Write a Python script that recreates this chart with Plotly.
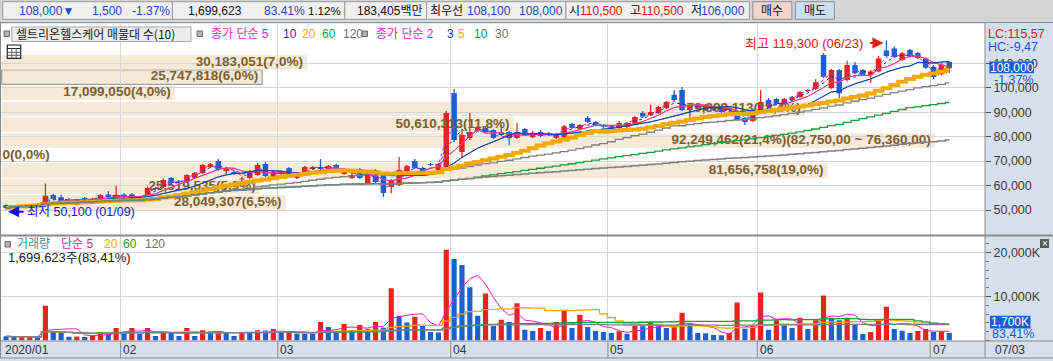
import numpy as np
import pandas as pd
import plotly.graph_objects as go

# ---------------- data ----------------
open_price = [
    52000, 50900, 51400, 51800, 52500, 52600, 56100, 55200, 54300, 52300,
    54900, 54100, 53500, 56300, 55400, 56300, 56400, 54900, 56100, 59000,
    59400, 63100, 61600, 61500, 63500, 65100, 67600, 70000, 65900, 65500,
    62500, 63100, 64300, 68800, 62700, 64700, 67200, 63100, 65500, 66800,
    67600, 65500, 68400, 64700, 63100, 66800, 61000, 66400, 65100, 59400,
    60200, 66000, 70000, 67200, 68800, 66400, 67600, 97900, 73700, 79400,
    82700, 83500, 82700, 81900, 81900, 79400, 83100, 79800, 81900, 81500,
    79400, 79800, 85200, 83100, 87600, 86000, 84800, 84000, 83500, 83900,
    85600, 89700, 88900, 89700, 91700, 97100, 99100, 90900, 92100, 90900,
    92100, 91700, 90900, 88800, 87600, 86400, 90100, 95000, 95400, 93400,
    95000, 96200, 98700, 99500, 113400, 99800, 107300, 103200, 109300, 107300,
    105200, 106600, 115200, 116100, 111400, 115400, 114200, 112000, 108500, 105500,
    110500]
high_price = [
    52300, 51900, 52200, 52600, 52800, 60800, 56600, 56300, 54900, 54500,
    55300, 55000, 56500, 57800, 59800, 56900, 57000, 55800, 59600, 59400,
    63000, 63500, 62300, 64700, 65500, 68800, 69200, 70900, 67600, 66000,
    63500, 66400, 69200, 69600, 66400, 66000, 67600, 65500, 68000, 68000,
    70900, 68400, 68800, 66400, 66800, 67200, 66400, 66800, 65500, 62700,
    71700, 68400, 70900, 67600, 69200, 69200, 90500, 99500, 82700, 89700,
    84300, 84300, 83100, 84800, 82300, 85600, 83500, 82300, 82700, 81900,
    81500, 84800, 85600, 85200, 88400, 86400, 85200, 84800, 86400, 86000,
    88400, 90500, 93000, 92500, 94600, 99100, 100300, 93000, 93400, 93400,
    92500, 92100, 92100, 89300, 88000, 91300, 99100, 95800, 95800, 95800,
    96600, 98700, 99500, 103600, 114200, 107700, 107700, 111000, 110500, 107700,
    107300, 113000, 119300, 116900, 114600, 115800, 114600, 112400, 109300, 110100,
    110500]
low_price = [
    50100, 50500, 51000, 51500, 51800, 52300, 54100, 53000, 53700, 52000,
    53900, 53800, 53300, 55000, 55000, 54900, 54300, 54500, 55800, 58000,
    59000, 60600, 60900, 61000, 63100, 64700, 67200, 66000, 64700, 64300,
    61900, 62700, 64000, 63500, 62300, 64300, 63100, 62700, 65100, 66400,
    66400, 65100, 65100, 64300, 62700, 62700, 60600, 61000, 55300, 56800,
    59800, 65500, 66800, 65100, 68000, 66000, 67200, 77800, 71300, 78600,
    82300, 81500, 79000, 80300, 76600, 79000, 80700, 79400, 79800, 80300,
    79000, 79400, 83100, 82700, 85600, 84300, 83500, 83100, 83100, 83500,
    85200, 87600, 88400, 89300, 91300, 94600, 90500, 87600, 91700, 90500,
    90500, 89700, 90500, 86400, 84800, 86000, 89700, 91700, 92900, 93000,
    94600, 95800, 98300, 99100, 104000, 99500, 95800, 102700, 105500, 104900,
    101900, 106200, 112700, 112300, 111000, 112300, 111800, 107700, 103600, 105000,
    106000]
close_price = [
    50800, 51600, 51900, 52300, 52000, 55800, 54500, 53500, 54000, 54100,
    54300, 54600, 56100, 55400, 56200, 55300, 54700, 55400, 59000, 58600,
    62300, 61000, 61400, 64300, 65100, 68400, 68800, 66400, 67200, 64700,
    62900, 66000, 68400, 63900, 65100, 65500, 63500, 65100, 67600, 67600,
    66800, 68000, 65500, 66000, 64300, 63100, 66000, 61500, 57000, 62300,
    66400, 68000, 67200, 65500, 68400, 68800, 89700, 78600, 80700, 81900,
    83900, 81900, 79400, 80700, 79400, 81900, 81100, 81500, 80300, 80700,
    81100, 84300, 83500, 84800, 86000, 84800, 84000, 83500, 85600, 85600,
    88000, 88200, 90100, 92100, 94200, 95000, 90900, 92500, 93000, 92900,
    90900, 90100, 91700, 86800, 86000, 90500, 94200, 92300, 93400, 95400,
    96200, 98300, 99100, 102300, 104500, 107300, 97700, 109300, 105900, 105200,
    106600, 112000, 113000, 112700, 114100, 112700, 112200, 108200, 104400, 109500,
    108000]
volume_k = [
    950, 800, 850, 880, 760, 7920, 1920, 1690, 880, 920,
    800, 1150, 1920, 1690, 2850, 1690, 2850, 1540, 2850, 1000,
    1920, 1690, 1000, 2850, 1000, 2310, 2000, 2100, 1690, 1000,
    1770, 1700, 2310, 2250, 2620, 1690, 1920, 1600, 1540, 1480,
    4230, 3080, 1920, 3770, 2310, 3540, 2540, 4230, 2920, 11850,
    5620, 4080, 5380, 3310, 1920, 1800, 20620, 18540, 17150, 12080,
    5620, 10690, 3310, 4690, 4230, 8460, 2460, 2150, 2850, 2150,
    4230, 6770, 2850, 5850, 3080, 2150, 1920, 1690, 2080, 1540,
    3350, 3250, 4080, 3230, 2850, 3310, 6310, 3850, 1690, 1650,
    1230, 1200, 1690, 8620, 2690, 3310, 10920, 2460, 4620, 3460,
    2850, 5150, 2620, 4620, 10230, 5150, 4620, 5150, 3770, 1460,
    1920, 4690, 7690, 2620, 2230, 1690, 2150, 2620, 1950, 2037.7,
    1699.6]

month_labels = ["2020/01", "02", "03", "04", "05", "06", "07"]
month_start = [0, 15, 35, 57, 77, 96, 118]
last_date_label = "07/03"
high_date, low_date = "06/23", "01/09"

price_ticks = [50000, 60000, 70000, 80000, 90000, 100000, 110000]
price_tick_labels = ["50,000", "60,000", "70,000", "80,000", "90,000", "100,000", "110,000"]
vol_ticks = [10000, 20000]
vol_tick_labels = ["10,000K", "20,000K"]

# volume profile (매물대), bottom band first
band_low = [50000, 56500, 63000, 69200, 75500, 82000, 88400, 95000, 101400, 107500]
band_high = [56100, 62600, 69100, 75100, 81400, 87900, 94300, 100700, 107300, 113400]
band_volume = [28049307, 25519535, 81656758, 0, 92249462, 50610313, 79399113,
               17099050, 25747818, 30183051]
max_band_range = (82750, 76360)
current_band = 8

ma_set1 = [5, 10, 20, 60, 120]
ma_set2 = [2, 3, 5, 10, 30]
vol_ma_periods = [5, 20, 60, 120]

toolbar = dict(price="108,000", change="1,500", rate="-1.37%", volume="1,699,623",
               vol_rate="83.41%", turnover="1.12%", amount="183,405백만",
               ask="108,100", bid="108,000", open="110,500", high="110,500", low="106,000")
last_volume_text = "1,699,623주(83,41%)"

# ---------------- styling ----------------
W, H = 1053, 361
RED = "#e8231c"
BLUE = "#1b5fd0"
MAGENTA = "#e21fc6"
MA_BLUE = "#1a2fc4"
ORANGE = "#f2a900"
GREEN = "#12a03a"
GRAY = "#808080"
BAND = "#f5e9d8"
BAND_TXT = "#7c5e2c"
PANEL = "#d6e0ec"
TOOLBAR = "#d4d4d4"
GRID = "#d6d6d6"
FRAME = "#8a8a8a"
FONT = "Liberation Sans, Noto Sans CJK KR, sans-serif"
KFONT = "Noto Sans CJK KR, Liberation Sans, sans-serif"

STEP = 7.86          # px per bar
X0PX = 6.1           # px of first bar centre
PLOT_R = 985.0       # right edge of plot area (px)
XMIN = -X0PX / STEP
XMAX = (PLOT_R - X0PX) / STEP
P_TOP, P_BOT = 23.7, 235.5
V_TOP, V_BOT = 236.0, 340.5


def PX(x):
    return x / W


def PY(y):
    return 1 - y / H


n = len(close_price)
xs = list(range(n))
cs = pd.Series(close_price, dtype=float)
vs = pd.Series(volume_k, dtype=float)

fig = go.Figure()

# band labels (drawn as a trace so candles sit over them)
vmax = max(band_volume)
vtot = sum(band_volume)
BAND_X0 = XMIN + 0.22
BAND_FULL = 933 / STEP
bx1, by, btxt, bpos = [], [], [], []
for k, (lo, hi, v) in enumerate(zip(band_low, band_high, band_volume)):
    pct = f"{v / vtot * 100:.1f}".replace(".", ",")
    t = f"{v:,}({pct}%)"
    if v == vmax:
        a, b = max_band_range
        t += f"({a:,}.00 ~ {b:,}.00)".replace(".", ",")
    x1 = BAND_X0 + v / vmax * BAND_FULL
    if v == 0:
        bx1.append(BAND_X0 + 0.1)
        bpos.append("middle right")
    else:
        bx1.append(x1 - 4 / STEP)
        bpos.append("middle left")
    by.append((lo + hi) / 2)
    btxt.append(t)
fig.add_trace(go.Scatter(x=bx1, y=by, text=btxt, mode="text", textposition=bpos,
                         textfont=dict(family=FONT, size=13.5, color=BAND_TXT, weight="bold"),
                         hoverinfo="skip", xaxis="x", yaxis="y", cliponaxis=False))

# moving averages
set2_style = {2: (MAGENTA, 1, "dot"), 3: (MA_BLUE, 1, "dot"), 5: (ORANGE, 1, "solid"),
              10: (GREEN, 1, "solid"), 30: (GRAY, 1.3, "solid")}
for p in ma_set2:
    c, w, d = set2_style[p]
    fig.add_trace(go.Scatter(x=xs, y=cs.rolling(p, min_periods=1).mean(), mode="lines",
                             line=dict(color=c, width=w, dash=d, shape="hvh" if p >= 20 else "linear"),
                             hoverinfo="skip", xaxis="x", yaxis="y"))
set1_style = {5: (MAGENTA, 1), 10: (MA_BLUE, 1), 20: (ORANGE, 4), 60: (GREEN, 1.3), 120: (GRAY, 1.5)}
for p in ma_set1:
    c, w = set1_style[p]
    fig.add_trace(go.Scatter(x=xs, y=cs.rolling(p, min_periods=1).mean(), mode="lines",
                             line=dict(color=c, width=w, shape="hvh" if p >= 20 else "linear"),
                             hoverinfo="skip", xaxis="x", yaxis="y"))

# candles
ccol = [RED if c >= o else BLUE for o, c in zip(open_price, close_price)]
fig.add_trace(go.Bar(x=xs, y=[h - l for h, l in zip(high_price, low_price)], base=low_price,
                     width=0.16, marker=dict(color=ccol, line=dict(width=0)),
                     hoverinfo="skip", xaxis="x", yaxis="y"))
fig.add_trace(go.Bar(x=xs, y=[max(abs(c - o), 250) for o, c in zip(open_price, close_price)],
                     base=[min(o, c) for o, c in zip(open_price, close_price)],
                     width=0.7, marker=dict(color=ccol, line=dict(width=0)),
                     hoverinfo="skip", xaxis="x", yaxis="y"))

# volume
vcol = [BLUE] + [RED if volume_k[i] > volume_k[i - 1] else BLUE for i in range(1, n)]
fig.add_trace(go.Bar(x=xs, y=volume_k, width=0.66, marker=dict(color=vcol, line=dict(width=0)),
                     hoverinfo="skip", xaxis="x2", yaxis="y2"))
vstyle = {5: (MAGENTA, 1, "linear"), 20: (ORANGE, 1.3, "hvh"), 60: (GREEN, 1.3, "hvh"), 120: (GRAY, 1.3, "hvh")}
for p in vol_ma_periods:
    c, w, s = vstyle[p]
    fig.add_trace(go.Scatter(x=xs, y=vs.rolling(p, min_periods=1).mean(), mode="lines",
                             line=dict(color=c, width=w, shape=s),
                             hoverinfo="skip", xaxis="x2", yaxis="y2"))

grid_x = [m - 0.43 for m in month_start[1:]]
xax = dict(domain=[0, PLOT_R / W], range=[XMIN, XMAX], tickvals=grid_x, showticklabels=False,
           ticks="", showgrid=True, gridcolor=GRID, gridwidth=1, zeroline=False, showline=False,
           fixedrange=True)
AXFONT = dict(family=FONT, size=12.5, color="#3c3c3c")
fig.update_layout(
    width=W, height=H, margin=dict(l=0, r=0, t=0, b=0),
    paper_bgcolor=PANEL, plot_bgcolor="white", barmode="overlay", showlegend=False,
    xaxis=dict(xax, anchor="y"),
    xaxis2=dict(xax, anchor="y2", matches="x"),
    yaxis=dict(domain=[PY(P_BOT), PY(P_TOP)],
               range=[50000 - (P_BOT - 210) * 409, 50000 + (210 - P_TOP) * 409],
               side="right", anchor="x", tickvals=price_ticks, ticktext=price_tick_labels,
               ticks="outside", ticklen=5, tickcolor="#505050", tickfont=AXFONT,
               showgrid=True, gridcolor=GRID, zeroline=False, showline=False, fixedrange=True),
    yaxis2=dict(domain=[PY(V_BOT), PY(V_TOP)], range=[0, (V_BOT - V_TOP) * 10000 / 44],
                side="right", anchor="x2", tickvals=vol_ticks, ticktext=vol_tick_labels,
                ticks="outside", ticklen=5, tickcolor="#505050", tickfont=AXFONT,
                minor=dict(dtick=2000, tick0=0, ticks="outside", ticklen=3, tickcolor="#707070"),
                showgrid=True, gridcolor=GRID, zeroline=False, showline=False, fixedrange=True),
)

shapes = []


def prect(x0, y0, x1, y1, fill=None, line=None, lw=1, layer="above"):
    shapes.append(dict(type="rect", xref="paper", yref="paper", x0=PX(x0), x1=PX(x1),
                       y0=PY(y1), y1=PY(y0), fillcolor=fill or "rgba(0,0,0,0)",
                       line=dict(color=line or "rgba(0,0,0,0)", width=lw if line else 0),
                       layer=layer))


def pline(x0, y0, x1, y1, color=FRAME, w=1, layer="above"):
    shapes.append(dict(type="line", xref="paper", yref="paper", x0=PX(x0), x1=PX(x1),
                       y0=PY(y0), y1=PY(y1), line=dict(color=color, width=w), layer=layer))


# bands
for k, (lo, hi, v) in enumerate(zip(band_low, band_high, band_volume)):
    if v == 0:
        continue
    x1 = BAND_X0 + v / vmax * BAND_FULL
    shapes.append(dict(type="rect", xref="x", yref="y", x0=BAND_X0, x1=x1, y0=lo, y1=hi,
                       fillcolor=BAND,
                       line=dict(color="#8c8c8c" if k == current_band else BAND,
                                 width=1 if k == current_band else 0),
                       layer="below"))

# toolbar
prect(0, 0, W, 21.5, fill=TOOLBAR, layer="below")
for x0, x1 in [(2.7, 172.4), (172.4, 344.8), (344.8, 426.6), (426.6, 565.9), (565.9, 749.4)]:
    prect(x0, 1.7, x1, 19.3, fill="#f0f0f0", line="#9a9a9a")
prect(752.8, 1.7, 791.9, 19.3, fill="#f5d3ce", line="#8c8c8c")
prect(795.3, 1.7, 834.4, 19.3, fill="#cbdff2", line="#8c8c8c")

# frames
pline(0, 22.5, W, 22.5)
pline(0, 235.5, W, 235.5, w=2)
pline(0, 341, W, 341)
pline(0, 358, W, 358)
pline(0.5, 22.5, 0.5, 358)
pline(PLOT_R, 22.5, PLOT_R, 358)
for gx in grid_x:
    shapes.append(dict(type="line", xref="x", yref="paper", x0=gx, x1=gx, y0=PY(358), y1=PY(341),
                       line=dict(color=FRAME, width=1)))

# legend icons, table icon, box
for ix in [4, 197, 362]:
    prect(ix, 31, ix + 5.5, 36.5, fill="#b4b4b4", line="#6c6c6c")
prect(5, 241.5, 10.5, 247, fill="#b4b4b4", line="#6c6c6c")
prect(11.8, 27, 191, 41.5, fill="#ececec", line="#a8a8a8")
prect(7.3, 45, 20.7, 58.3, fill="white", line="#202020", lw=1.2)
pline(7.3, 48.5, 20.7, 48.5, "#202020")
pline(7.3, 52.3, 20.7, 52.3, "#606060")
pline(7.3, 55.3, 20.7, 55.3, "#606060")
pline(11.8, 48.5, 11.8, 58.3, "#606060")
pline(16.2, 48.5, 16.2, 58.3, "#606060")

# right panel boxes
prect(989.3, 61.5, 1034, 73.3, fill="#1a5fd0")
prect(990, 315.7, 1030.5, 328.6, fill="#1a5fd0")
prect(1040, 239, 1049, 248, fill="#5a5a5a")

annotations = []


def ann(px, py, text, color="#202020", size=12, family=FONT, xanchor="left", yanchor="middle"):
    annotations.append(dict(xref="paper", yref="paper", x=PX(px), y=PY(py), text=text,
                            showarrow=False, xanchor=xanchor, yanchor=yanchor, borderpad=0,
                            font=dict(family=family, size=size, color=color)))


TB_BLUE = "#1a48d0"
TB_RED = "#e01a14"
ty = 10.8
TS = 12
ann(75, ty, toolbar["price"] + "▼", TB_BLUE, TS, xanchor="right")
ann(123.4, ty, toolbar["change"], TB_BLUE, TS, xanchor="right")
ann(171, ty, toolbar["rate"], TB_BLUE, TS, xanchor="right")
ann(243, ty, toolbar["volume"], "#111111", TS, xanchor="right")
ann(306, ty, toolbar["vol_rate"], TB_BLUE, TS, xanchor="right")
ann(342, ty, toolbar["turnover"], "#111111", 11.5, xanchor="right")
ann(423, ty, toolbar["amount"], "#111111", TS, xanchor="right")
ann(429, ty, "최우선", "#111111", TS)
ann(512, ty, toolbar["ask"], TB_BLUE, TS, xanchor="right")
ann(564, ty, toolbar["bid"], TB_BLUE, TS, xanchor="right")
ann(567.5, ty, "시", "#111111", TS)
ann(624, ty, toolbar["open"], TB_RED, TS, xanchor="right")
ann(628.5, ty, "고", "#111111", TS)
ann(685, ty, toolbar["high"], TB_RED, TS, xanchor="right")
ann(690, ty, "저", "#111111", TS)
ann(746, ty, toolbar["low"], TB_BLUE, TS, xanchor="right")
ann(772.3, ty, "매수", "#111111", TS, xanchor="center")
ann(814.8, ty, "매도", "#111111", TS, xanchor="center")

# price pane legend
ly = 34
ann(15, ly, "셀트리온헬스케어 매물대 수(10)", "#202020", 12, KFONT)
ann(209.6, ly, "종가 단순 5", MAGENTA, 12, FONT)
ann(282, ly, "10", MA_BLUE, 12, FONT)
ann(301, ly, "20", ORANGE, 12, FONT)
ann(320.5, ly, "60", GREEN, 12, FONT)
ann(341.5, ly, "120", "#707070", 12, FONT)
ann(374.6, ly, "종가 단순 2", MAGENTA, 12, FONT)
ann(445.6, ly, "3", MA_BLUE, 12, FONT)
ann(457, ly, "5", ORANGE, 12, FONT)
ann(473, ly, "10", GREEN, 12, FONT)
ann(493.6, ly, "30", "#707070", 12, FONT)

# volume pane legend
vy = 244.3
ann(16, vy, "거래량", "#2f9393", 12, FONT)
ann(60, vy, "단순 5", MAGENTA, 12, FONT)
ann(103, vy, "20", ORANGE, 12, FONT)
ann(122, vy, "60", GREEN, 12, FONT)
ann(143.7, vy, "120", "#707070", 12, FONT)
ann(6.8, 257.7, last_volume_text, "#202020", 13, FONT)

# right panel
last_close = close_price[-1]
prev_close = close_price[-2]
lc = (last_close - min(low_price)) / min(low_price) * 100
hc = (last_close - max(high_price)) / max(high_price) * 100
chg = (last_close - prev_close) / prev_close * 100
ann(986.5, 34, f"LC:{lc:.2f}".replace(".", ","), "#e01a14", 12.5, FONT)
ann(986.5, 47, f"HC:{hc:.2f}".replace(".", ","), "#1a55d0", 12.5, FONT)
ann(1011.6, 67.6, f"{last_close:,}", "white", 12, FONT, xanchor="center")
ann(993, 80, f"{chg:.2f}%".replace(".", ","), "#1a55d0", 12.5, FONT)
ann(1010.2, 322.3, f"{round(volume_k[-1]):,}K", "white", 12, FONT, xanchor="center")
ann(990.5, 334, f"{volume_k[-1] / volume_k[-2] * 100:.2f}%".replace(".", ","), "#1a55d0", 12.5, FONT)
ann(1044.5, 243.3, "×", "white", 10, FONT, xanchor="center")

# date axis labels
for lab, m in zip(month_labels, month_start):
    annotations.append(dict(xref="x", yref="paper", x=m - 0.43, y=PY(349.5), text=lab, showarrow=False,
                            xanchor="left", yanchor="middle", xshift=1.5, borderpad=0,
                            font=dict(family=FONT, size=12, color="#333333")))
ann(994, 349.5, last_date_label, "#333333", 12, FONT)

# high / low markers
i_hi = int(np.argmax(high_price))
i_lo = int(np.argmin(low_price))
annotations.append(dict(xref="x", yref="y", x=i_hi, y=high_price[i_hi], text="", showarrow=True,
                        ax=-15, ay=0, xshift=-3, yshift=-2.5, arrowhead=2, arrowsize=1.1,
                        arrowwidth=2, arrowcolor="#e01a14"))
annotations.append(dict(xref="x", yref="y", x=i_hi, y=high_price[i_hi],
                        text=f"최고 {high_price[i_hi]:,} ({high_date})", showarrow=False,
                        xanchor="right", yanchor="middle", xshift=-22, yshift=-2.5, borderpad=0,
                        font=dict(family=FONT, size=13, color="#e01a14")))
annotations.append(dict(xref="x", yref="y", x=i_lo, y=low_price[i_lo], text="", showarrow=True,
                        ax=17, ay=0, xshift=2, yshift=-2, arrowhead=2, arrowsize=1.1,
                        arrowwidth=2, arrowcolor="#1414e0"))
annotations.append(dict(xref="x", yref="y", x=i_lo, y=low_price[i_lo],
                        text=f"최저 {low_price[i_lo]:,} ({low_date})", showarrow=False,
                        xanchor="left", yanchor="middle", xshift=20, yshift=-2, borderpad=0,
                        font=dict(family=FONT, size=12.5, color="#1414e0")))

fig.update_layout(shapes=shapes, annotations=annotations)
fig.write_html("out.html", config={"displayModeBar": False, "staticPlot": True},
               post_script="document.body.style.margin='0px';document.body.style.overflow='hidden';")
